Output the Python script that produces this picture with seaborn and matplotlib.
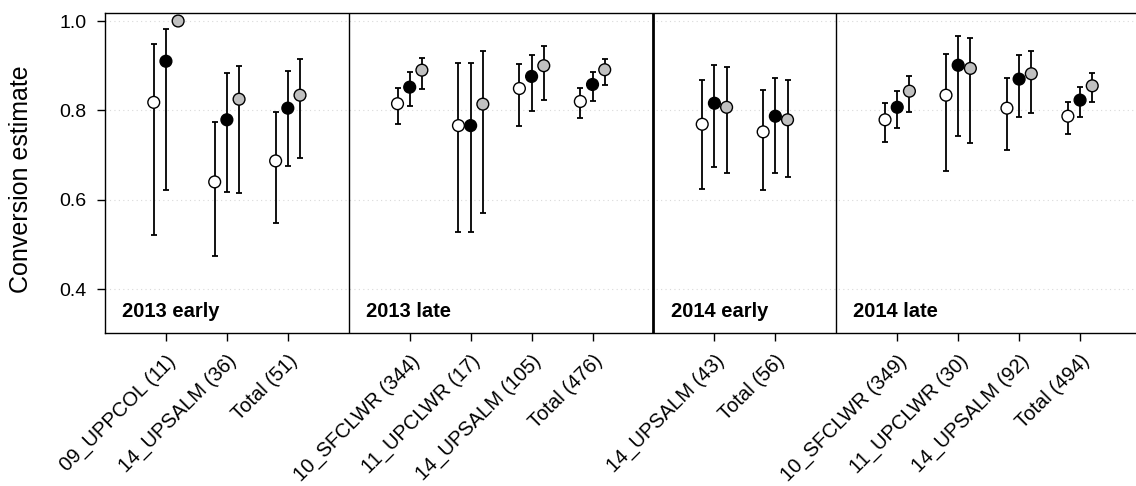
import matplotlib
matplotlib.use("Agg")
import matplotlib.pyplot as plt
import numpy as np
import pandas as pd
import seaborn as sns

# ---------------- data ----------------
groups = ["2013 early", "2013 late", "2014 early", "2014 late"]
group_sizes = [3, 4, 2, 4]
categories = ["09_UPPCOL (11)", "14_UPSALM (36)", "Total (51)",
              "10_SFCLWR (344)", "11_UPCLWR (17)", "14_UPSALM (105)", "Total (476)",
              "14_UPSALM (43)", "Total (56)",
              "10_SFCLWR (349)", "11_UPCLWR (30)", "14_UPSALM (92)", "Total (494)"]
series_names = ["Series 1", "Series 2", "Series 3"]

white_est = [0.818, 0.640, 0.687, 0.815, 0.766, 0.849, 0.820, 0.769, 0.752, 0.779, 0.834, 0.805, 0.787]
white_lo = [0.522, 0.474, 0.549, 0.769, 0.527, 0.766, 0.782, 0.625, 0.623, 0.729, 0.664, 0.711, 0.747]
white_hi = [0.948, 0.775, 0.796, 0.851, 0.905, 0.904, 0.851, 0.868, 0.845, 0.817, 0.927, 0.872, 0.819]

black_est = [0.910, 0.779, 0.805, 0.852, 0.766, 0.876, 0.858, 0.816, 0.787, 0.807, 0.901, 0.870, 0.823]
black_lo = [0.622, 0.617, 0.675, 0.810, 0.527, 0.799, 0.822, 0.674, 0.661, 0.760, 0.743, 0.785, 0.785]
black_hi = [0.983, 0.883, 0.889, 0.885, 0.905, 0.925, 0.885, 0.902, 0.872, 0.843, 0.966, 0.923, 0.852]

gray_est = [1.000, 0.825, 0.834, 0.890, 0.814, 0.900, 0.891, 0.807, 0.779, 0.843, 0.894, 0.882, 0.855]
gray_lo = [1.000, 0.615, 0.694, 0.849, 0.570, 0.824, 0.857, 0.659, 0.650, 0.797, 0.728, 0.794, 0.819]
gray_hi = [1.000, 0.900, 0.916, 0.918, 0.934, 0.943, 0.916, 0.898, 0.867, 0.877, 0.963, 0.934, 0.884]

y_ticks = [0.4, 0.6, 0.8, 1.0]

# ---------------- style ----------------
sns.set_style("ticks")
plt.rcParams['font.family'] = ['Liberation Sans', 'DejaVu Sans']
plt.rcParams['axes.linewidth'] = 1.0
plt.rcParams['text.color'] = 'black'
plt.rcParams['axes.labelcolor'] = 'black'
plt.rcParams['xtick.color'] = 'black'
plt.rcParams['ytick.color'] = 'black'
plt.rcParams['xtick.labelcolor'] = 'black'
plt.rcParams['ytick.labelcolor'] = 'black'

colors = ["white", "black", "#c0c0c0"]
offsets = [-0.2, 0.0, 0.2]

# category positions: one slot between groups for the divider
positions = []
dividers = []
pos = 1
for n in group_sizes:
    for _ in range(n):
        positions.append(pos)
        pos += 1
    dividers.append(pos)
    pos += 1
group_starts = [0] + dividers[:-1]

ests = [white_est, black_est, gray_est]
los = [white_lo, black_lo, gray_lo]
his = [white_hi, black_hi, gray_hi]

rows = []
for s, name in enumerate(series_names):
    for i, cat in enumerate(categories):
        rows.append(dict(series=name, category=cat, x=positions[i] + offsets[s],
                         est=ests[s][i], lo=los[s][i], hi=his[s][i]))
df = pd.DataFrame(rows)

W, H = 1136, 486
fig = plt.figure(figsize=(W / 100, H / 100), dpi=100)
ax = fig.add_axes([105 / W, (H - 333.3) / H, (1141 - 105) / W, (333.3 - 12.7) / H])

# gridlines
for yt in y_ticks:
    ax.axhline(yt, color="#d9d9d9", lw=0.8, ls=(0, (1, 3)), zorder=0)

# error bars
for s, name in enumerate(series_names):
    sub = df[df.series == name]
    yerr = np.vstack([sub.est - sub.lo, sub.hi - sub.est])
    ax.errorbar(sub.x, sub.est, yerr=yerr, fmt="none", ecolor="black",
                elinewidth=1.3, capsize=2, capthick=1.3, zorder=2)

sns.scatterplot(data=df, x="x", y="est", hue="series", palette=colors,
                hue_order=series_names, s=72, edgecolor="black", linewidth=1.0,
                legend=False, zorder=3, ax=ax)

# group dividers
for k, d in enumerate(dividers[:-1]):
    ax.axvline(d, color="black", lw=2.0 if k == 1 else 1.0, zorder=1)

# panel labels
for g, start in zip(groups, group_starts):
    ax.text(start + 0.28, 0.3385, g, fontsize=14.5, fontweight="bold",
            ha="left", va="baseline", color="black")

ax.set_xlim(0, 17)
ax.set_ylim(0.3013, 1.0186)
ax.set_xticks(positions)
ax.set_xticklabels(categories, rotation=45, ha="right", rotation_mode="anchor",
                   fontsize=14.5, color="black")
ax.set_yticks(y_ticks)
ax.set_yticklabels([f"{v:.1f}" for v in y_ticks], fontsize=14, color="black")
ax.tick_params(axis="both", direction="out", length=6, width=1.0, color="black")
ax.tick_params(axis="x", pad=7)
ax.tick_params(axis="y", pad=7.5)
ax.set_xlabel("")
ax.set_ylabel("Conversion estimate", fontsize=18, color="black")
ax.yaxis.set_label_coords(-0.0695, 0.48)
for sp in ax.spines.values():
    sp.set_color("black")
    sp.set_linewidth(1.0)

fig.savefig("out.png", dpi=100)
